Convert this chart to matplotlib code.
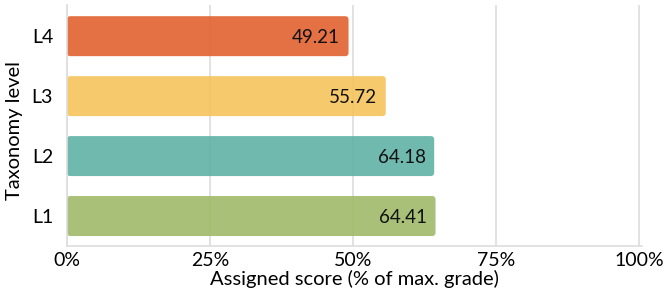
import matplotlib.pyplot as plt
from matplotlib.patches import FancyBboxPatch
from matplotlib.ticker import FuncFormatter

levels = ["L1", "L2", "L3", "L4"]
scores = [64.41, 64.18, 55.72, 49.21]
colors = ["#9fba68", "#5fb2a6", "#f5c45c", "#e2622f"]
xticks = [0, 25, 50, 75, 100]

plt.rcParams["font.family"] = ["Lato", "DejaVu Sans"]

fig = plt.figure(figsize=(6.65, 2.96), dpi=100)
ax = fig.add_axes([67 / 665, 50 / 296, 575 / 665, 241 / 296])

bar_h = 0.667
for i, (v, c) in enumerate(zip(scores, colors)):
    box = FancyBboxPatch((0, i - bar_h / 2), v, bar_h,
                         boxstyle="round,pad=0,rounding_size=0.6",
                         mutation_aspect=0.1,
                         facecolor=c, edgecolor="none", alpha=0.9, zorder=2)
    ax.add_patch(box)
    ax.text(v - 1.5, i - 0.03, f"{v:.2f}", ha="right", va="center",
            fontsize=13.5, color="#111111", zorder=3)

ax.set_xlim(0, 100.5)
ax.set_ylim(-0.5, 3.52)
ax.set_yticks(range(len(levels)))
ax.set_yticklabels(levels)
ax.set_xticks(xticks)
ax.xaxis.set_major_formatter(FuncFormatter(lambda x, _: f"{x:.0f}%"))
ax.tick_params(length=0, labelsize=14, pad=10)
ax.tick_params(axis="x", pad=4)

ax.grid(axis="x", color="#dddddd", linewidth=1.2, zorder=0)
ax.set_axisbelow(True)
for s in ["top", "right"]:
    ax.spines[s].set_visible(False)
for s in ["left", "bottom"]:
    ax.spines[s].set_color("#dddddd")
    ax.spines[s].set_linewidth(1.2)

ax.set_xlabel("Assigned score (% of max. grade)", fontsize=14.5, labelpad=1)
ax.set_ylabel("Taxonomy level", fontsize=14.5)
ax.yaxis.set_label_coords(-0.077, 0.48)

fig.savefig("out.png", dpi=100)
